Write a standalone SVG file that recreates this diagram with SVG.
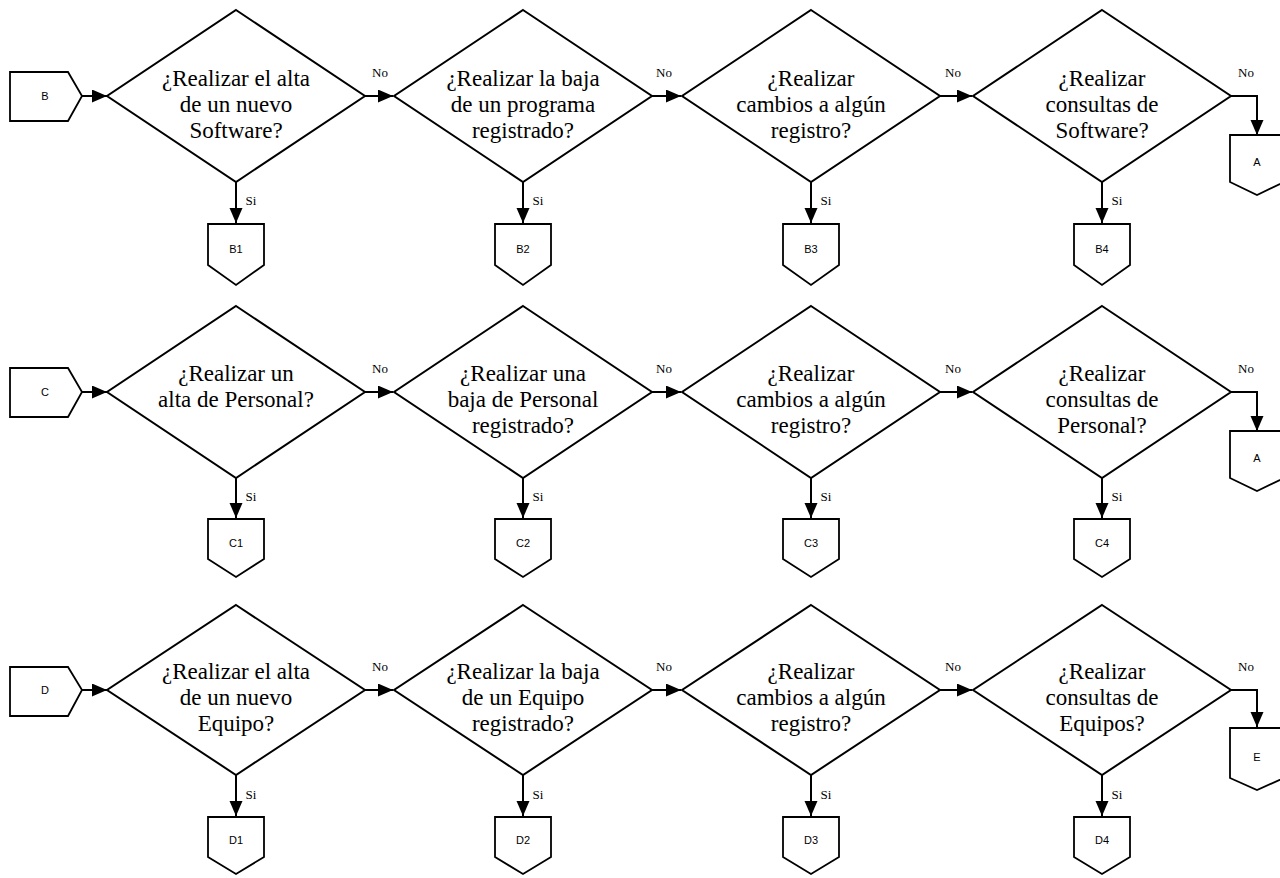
<svg xmlns="http://www.w3.org/2000/svg" width="1280" height="878" viewBox="0 0 1280 878">
  <style>
    .bg { fill: #ffffff; }
    .shape { fill: #ffffff; stroke: #000000; stroke-width: 2; stroke-linejoin: miter; }
    .conn { fill: #ffffff; stroke: #000000; stroke-width: 1.8; }
    .edge { fill: none; stroke: #000000; stroke-width: 2; }
    .q { font-family: "Liberation Serif", "Times New Roman", serif; font-size: 23px; fill: #000; text-anchor: middle; }
    .lbl { font-family: "Liberation Serif", "Times New Roman", serif; font-size: 13px; fill: #000; text-anchor: middle; }
    .ref { font-family: "Liberation Sans", Arial, sans-serif; font-size: 11px; fill: #000; text-anchor: middle; }
  </style>
  <defs>
    <marker id="arrow" markerUnits="userSpaceOnUse" markerWidth="16" markerHeight="14" refX="15" refY="6.5" orient="auto">
      <path d="M0,0 L15,6.5 L0,13 Z" fill="#000000"/>
    </marker>
  </defs>
  <rect class="bg" x="0" y="0" width="1280" height="878"/>

  <!-- connectors -->
  <g id="connectors">
    <!-- row 1 (Software) -->
    <path class="edge" d="M82,96 H107" marker-end="url(#arrow)"/>
    <path class="edge" d="M365,96 H393" marker-end="url(#arrow)"/>
    <path class="edge" d="M652,96 H681" marker-end="url(#arrow)"/>
    <path class="edge" d="M940,96 H972" marker-end="url(#arrow)"/>
    <path class="edge" d="M1231,96 H1257 V135" marker-end="url(#arrow)"/>
    <path class="edge" d="M236,182 V223" marker-end="url(#arrow)"/>
    <path class="edge" d="M523,182 V223" marker-end="url(#arrow)"/>
    <path class="edge" d="M811,182 V223" marker-end="url(#arrow)"/>
    <path class="edge" d="M1102,182 V223" marker-end="url(#arrow)"/>
    <text class="lbl" x="380" y="77">No</text>
    <text class="lbl" x="664" y="77">No</text>
    <text class="lbl" x="953" y="77">No</text>
    <text class="lbl" x="1246" y="77">No</text>
    <text class="lbl" x="251" y="205">Si</text>
    <text class="lbl" x="538" y="205">Si</text>
    <text class="lbl" x="826" y="205">Si</text>
    <text class="lbl" x="1117" y="205">Si</text>

    <!-- row 2 (Personal) -->
    <path class="edge" d="M82,392 H107" marker-end="url(#arrow)"/>
    <path class="edge" d="M365,392 H393" marker-end="url(#arrow)"/>
    <path class="edge" d="M652,392 H681" marker-end="url(#arrow)"/>
    <path class="edge" d="M940,392 H972" marker-end="url(#arrow)"/>
    <path class="edge" d="M1231,392 H1257 V431" marker-end="url(#arrow)"/>
    <path class="edge" d="M236,478 V518" marker-end="url(#arrow)"/>
    <path class="edge" d="M523,478 V518" marker-end="url(#arrow)"/>
    <path class="edge" d="M811,478 V518" marker-end="url(#arrow)"/>
    <path class="edge" d="M1102,478 V518" marker-end="url(#arrow)"/>
    <text class="lbl" x="380" y="373">No</text>
    <text class="lbl" x="664" y="373">No</text>
    <text class="lbl" x="953" y="373">No</text>
    <text class="lbl" x="1246" y="373">No</text>
    <text class="lbl" x="251" y="501">Si</text>
    <text class="lbl" x="538" y="501">Si</text>
    <text class="lbl" x="826" y="501">Si</text>
    <text class="lbl" x="1117" y="501">Si</text>

    <!-- row 3 (Equipos) -->
    <path class="edge" d="M82,690 H107" marker-end="url(#arrow)"/>
    <path class="edge" d="M365,690 H393" marker-end="url(#arrow)"/>
    <path class="edge" d="M652,690 H681" marker-end="url(#arrow)"/>
    <path class="edge" d="M940,690 H972" marker-end="url(#arrow)"/>
    <path class="edge" d="M1231,690 H1257 V727" marker-end="url(#arrow)"/>
    <path class="edge" d="M236,775 V816" marker-end="url(#arrow)"/>
    <path class="edge" d="M523,775 V816" marker-end="url(#arrow)"/>
    <path class="edge" d="M811,775 V816" marker-end="url(#arrow)"/>
    <path class="edge" d="M1102,775 V816" marker-end="url(#arrow)"/>
    <text class="lbl" x="380" y="671">No</text>
    <text class="lbl" x="664" y="671">No</text>
    <text class="lbl" x="953" y="671">No</text>
    <text class="lbl" x="1246" y="671">No</text>
    <text class="lbl" x="251" y="799">Si</text>
    <text class="lbl" x="538" y="799">Si</text>
    <text class="lbl" x="826" y="799">Si</text>
    <text class="lbl" x="1117" y="799">Si</text>
  </g>

  <!-- row 1 nodes -->
  <g id="start-B">
    <path class="conn" d="M10,72 H68 L82,96 L68,121 H10 Z"/>
    <text class="ref" x="45" y="100">B</text>
  </g>
  <g id="q-alta-software">
    <path class="shape" d="M236,10 L365,96 L236,182 L107,96 Z"/>
    <text class="q" x="236" y="86">¿Realizar el alta</text>
    <text class="q" x="236" y="112">de un nuevo</text>
    <text class="q" x="236" y="138">Software?</text>
  </g>
  <g id="q-baja-software">
    <path class="shape" d="M523,10 L652,96 L523,182 L394,96 Z"/>
    <text class="q" x="523" y="86">¿Realizar la baja</text>
    <text class="q" x="523" y="112">de un programa</text>
    <text class="q" x="523" y="138">registrado?</text>
  </g>
  <g id="q-cambios-software">
    <path class="shape" d="M811,10 L940,96 L811,182 L682,96 Z"/>
    <text class="q" x="811" y="86">¿Realizar</text>
    <text class="q" x="811" y="112">cambios a algún</text>
    <text class="q" x="811" y="138">registro?</text>
  </g>
  <g id="q-consultas-software">
    <path class="shape" d="M1102,10 L1231,96 L1102,182 L973,96 Z"/>
    <text class="q" x="1102" y="86">¿Realizar</text>
    <text class="q" x="1102" y="112">consultas de</text>
    <text class="q" x="1102" y="138">Software?</text>
  </g>
  <g id="B1">
    <path class="conn" d="M208,224 H264 V265 L236,285 L208,265 Z"/>
    <text class="ref" x="236" y="253">B1</text>
  </g>
  <g id="B2">
    <path class="conn" d="M495,224 H551 V265 L523,285 L495,265 Z"/>
    <text class="ref" x="523" y="253">B2</text>
  </g>
  <g id="B3">
    <path class="conn" d="M783,224 H839 V265 L811,285 L783,265 Z"/>
    <text class="ref" x="811" y="253">B3</text>
  </g>
  <g id="B4">
    <path class="conn" d="M1074,224 H1130 V265 L1102,285 L1074,265 Z"/>
    <text class="ref" x="1102" y="253">B4</text>
  </g>
  <g id="exit-A-1">
    <path class="conn" d="M1230,135 H1284 V182 L1257,195 L1230,182 Z"/>
    <text class="ref" x="1257" y="166">A</text>
  </g>

  <!-- row 2 nodes -->
  <g id="start-C">
    <path class="conn" d="M10,368 H68 L82,392 L68,417 H10 Z"/>
    <text class="ref" x="45" y="396">C</text>
  </g>
  <g id="q-alta-personal">
    <path class="shape" d="M236,306 L365,392 L236,478 L107,392 Z"/>
    <text class="q" x="236" y="381">¿Realizar un</text>
    <text class="q" x="236" y="407">alta de Personal?</text>
  </g>
  <g id="q-baja-personal">
    <path class="shape" d="M523,306 L652,392 L523,478 L394,392 Z"/>
    <text class="q" x="523" y="381">¿Realizar una</text>
    <text class="q" x="523" y="407">baja de Personal</text>
    <text class="q" x="523" y="433">registrado?</text>
  </g>
  <g id="q-cambios-personal">
    <path class="shape" d="M811,306 L940,392 L811,478 L682,392 Z"/>
    <text class="q" x="811" y="381">¿Realizar</text>
    <text class="q" x="811" y="407">cambios a algún</text>
    <text class="q" x="811" y="433">registro?</text>
  </g>
  <g id="q-consultas-personal">
    <path class="shape" d="M1102,306 L1231,392 L1102,478 L973,392 Z"/>
    <text class="q" x="1102" y="381">¿Realizar</text>
    <text class="q" x="1102" y="407">consultas de</text>
    <text class="q" x="1102" y="433">Personal?</text>
  </g>
  <g id="C1">
    <path class="conn" d="M208,519 H264 V559 L236,577 L208,559 Z"/>
    <text class="ref" x="236" y="547">C1</text>
  </g>
  <g id="C2">
    <path class="conn" d="M495,519 H551 V559 L523,577 L495,559 Z"/>
    <text class="ref" x="523" y="547">C2</text>
  </g>
  <g id="C3">
    <path class="conn" d="M783,519 H839 V559 L811,577 L783,559 Z"/>
    <text class="ref" x="811" y="547">C3</text>
  </g>
  <g id="C4">
    <path class="conn" d="M1074,519 H1130 V559 L1102,577 L1074,559 Z"/>
    <text class="ref" x="1102" y="547">C4</text>
  </g>
  <g id="exit-A-2">
    <path class="conn" d="M1230,431 H1284 V478 L1257,491 L1230,478 Z"/>
    <text class="ref" x="1257" y="462">A</text>
  </g>

  <!-- row 3 nodes -->
  <g id="start-D">
    <path class="conn" d="M10,667 H68 L82,690 L68,716 H10 Z"/>
    <text class="ref" x="45" y="694">D</text>
  </g>
  <g id="q-alta-equipo">
    <path class="shape" d="M236,605 L365,690 L236,775 L107,690 Z"/>
    <text class="q" x="236" y="679">¿Realizar el alta</text>
    <text class="q" x="236" y="705">de un nuevo</text>
    <text class="q" x="236" y="731">Equipo?</text>
  </g>
  <g id="q-baja-equipo">
    <path class="shape" d="M523,605 L652,690 L523,775 L394,690 Z"/>
    <text class="q" x="523" y="679">¿Realizar la baja</text>
    <text class="q" x="523" y="705">de un Equipo</text>
    <text class="q" x="523" y="731">registrado?</text>
  </g>
  <g id="q-cambios-equipo">
    <path class="shape" d="M811,605 L940,690 L811,775 L682,690 Z"/>
    <text class="q" x="811" y="679">¿Realizar</text>
    <text class="q" x="811" y="705">cambios a algún</text>
    <text class="q" x="811" y="731">registro?</text>
  </g>
  <g id="q-consultas-equipo">
    <path class="shape" d="M1102,605 L1231,690 L1102,775 L973,690 Z"/>
    <text class="q" x="1102" y="679">¿Realizar</text>
    <text class="q" x="1102" y="705">consultas de</text>
    <text class="q" x="1102" y="731">Equipos?</text>
  </g>
  <g id="D1">
    <path class="conn" d="M208,817 H264 V857 L236,874 L208,857 Z"/>
    <text class="ref" x="236" y="844">D1</text>
  </g>
  <g id="D2">
    <path class="conn" d="M495,817 H551 V857 L523,874 L495,857 Z"/>
    <text class="ref" x="523" y="844">D2</text>
  </g>
  <g id="D3">
    <path class="conn" d="M783,817 H839 V857 L811,874 L783,857 Z"/>
    <text class="ref" x="811" y="844">D3</text>
  </g>
  <g id="D4">
    <path class="conn" d="M1074,817 H1130 V857 L1102,874 L1074,857 Z"/>
    <text class="ref" x="1102" y="844">D4</text>
  </g>
  <g id="exit-E">
    <path class="conn" d="M1230,728 H1284 V778 L1257,790 L1230,778 Z"/>
    <text class="ref" x="1257" y="761">E</text>
  </g>
</svg>
